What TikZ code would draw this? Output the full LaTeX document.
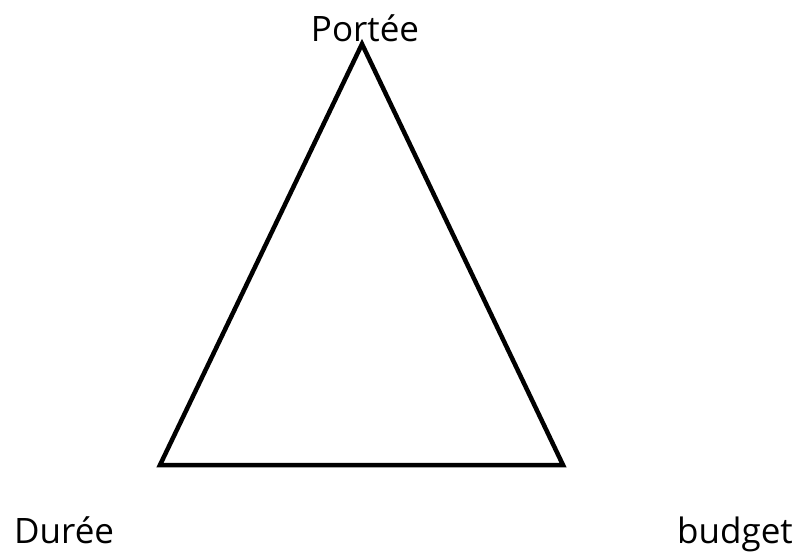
\documentclass[tikz,border=0pt]{standalone}
\usepackage{fontspec}
\setmainfont{Open Sans}
\usetikzlibrary{positioning}

\begin{document}
\begin{tikzpicture}[
  x=1pt, y=-1pt,
  every node/.style={font=\fontsize{35}{42}\selectfont, inner sep=0pt},
  edge/.style={line width=4.5pt, line join=miter}]
  \useasboundingbox (0,0) rectangle (801,555);
  % sommets du triangle
  \coordinate (top) at (362,44);
  \coordinate (left) at (160,465);
  \coordinate (right) at (563,465);
  \draw[edge] (top) -- (left) -- (right) -- cycle;
  % etiquettes
  \node[anchor=base] (portee) at (365,41) {Portée};
  \node[anchor=base west] (duree) at (14,543) {Durée};
  \node[anchor=base west] (budget) at (677,543) {budget};
\end{tikzpicture}
\end{document}
